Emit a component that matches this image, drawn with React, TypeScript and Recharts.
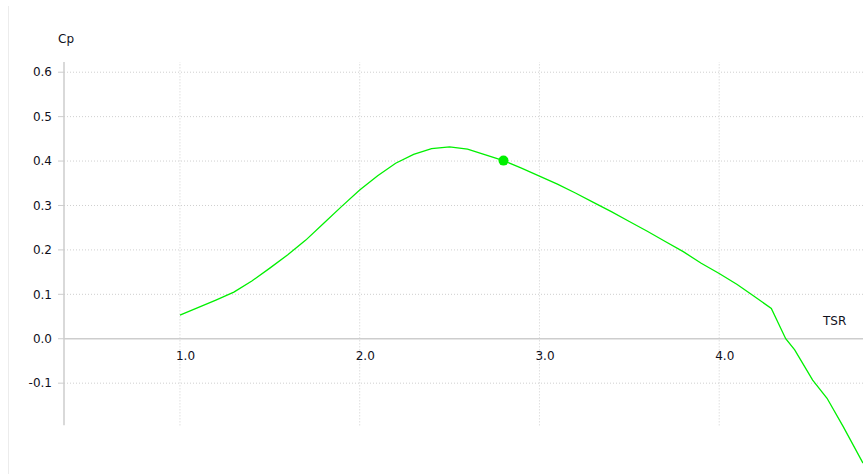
import { ComposedChart, Line, XAxis, YAxis, ReferenceLine, ReferenceDot } from 'recharts';

// Cp curve
const tsr = [1.0, 1.1, 1.2, 1.3, 1.4, 1.5, 1.6, 1.7, 1.8, 1.9, 2.0, 2.1, 2.2, 2.3, 2.4, 2.5, 2.6, 2.7, 2.8, 2.9, 3.0, 3.1, 3.2, 3.3, 3.4, 3.5, 3.6, 3.7, 3.8, 3.9, 4.0, 4.1, 4.2, 4.29, 4.37, 4.42, 4.52, 4.6, 4.69, 4.8];
const cp = [0.053, 0.07, 0.087, 0.105, 0.13, 0.159, 0.189, 0.222, 0.26, 0.298, 0.335, 0.367, 0.395, 0.415, 0.428, 0.432, 0.427, 0.414, 0.401, 0.384, 0.366, 0.348, 0.328, 0.307, 0.286, 0.264, 0.242, 0.219, 0.196, 0.17, 0.147, 0.122, 0.094, 0.068, 0.0, -0.025, -0.093, -0.134, -0.198, -0.28];

// operating point
const markerTsr = [2.8];
const markerCp = [0.401];

const xTicks = [1, 2, 3, 4];
const yTicks = [-0.1, 0, 0.1, 0.2, 0.3, 0.4, 0.5, 0.6];
const xRange = [0.355, 4.8];
const yRange = [-0.3, 0.65];
const axisSpan = [-0.195, 0.623];

const curve = tsr.map((t, i) => ({ tsr: t, cp: cp[i] }));
const marker = markerTsr.map((t, i) => ({ tsr: t, cp: markerCp[i] }));

const textColor = '#10101c';
const gridColor = '#cfcfcf';
const axisColor = '#cdcdcd';
const green = '#00f000';

const App = () => {
  return (
    <div style={{ position: 'absolute', left: 0, top: 0, width: 863, height: 474, fontFamily: '"DejaVu Sans", sans-serif', background: '#fff' }}>
      <div style={{ position: 'absolute', left: 8, top: 6, bottom: 0, width: 1, background: '#ececec' }} />
      <div style={{ position: 'absolute', left: 58, top: 32, fontSize: 12, color: textColor }}>Cp</div>
      <div style={{ position: 'absolute', left: 823, top: 314, fontSize: 12, color: textColor }}>TSR</div>
      <ComposedChart width={863} height={474} margin={{ top: 50, right: 0, bottom: 2, left: 0 }}>
        <XAxis type="number" dataKey="tsr" domain={xRange} allowDataOverflow hide ticks={xTicks} />
        <YAxis
          type="number"
          width={64}
          domain={yRange}
          allowDataOverflow
          ticks={yTicks}
          axisLine={false}
          tickSize={6}
          tickMargin={6}
          tickLine={{ stroke: axisColor }}
          tick={{ fill: textColor, fontSize: 12 }}
          tickFormatter={(v: number) => v.toFixed(1)}
        />
        {yTicks.filter((t) => t !== 0).map((t) => (
          <ReferenceLine key={`h${t}`} y={t} stroke={gridColor} strokeDasharray="1 2" />
        ))}
        {xTicks.map((t) => (
          <ReferenceLine
            key={`g${t}`}
            segment={[{ x: t, y: axisSpan[0] }, { x: t, y: axisSpan[1] }]}
            stroke={gridColor}
            strokeDasharray="1 2"
          />
        ))}
        <ReferenceLine
          segment={[{ x: xRange[0], y: axisSpan[0] }, { x: xRange[0], y: axisSpan[1] }]}
          stroke={axisColor}
          strokeWidth={1.5}
        />
        <ReferenceLine y={0} stroke={axisColor} strokeWidth={1.5} />
        {xTicks.map((t) => (
          <ReferenceDot
            key={`l${t}`}
            x={t}
            y={0}
            r={0}
            stroke="none"
            fill="none"
            label={{
              content: (props: any) => (
                <text x={props.viewBox.x - 4} y={props.viewBox.y + 21} fill={textColor} fontSize={12}>
                  {t.toFixed(1)}
                </text>
              ),
            }}
          />
        ))}
        <Line data={curve} dataKey="cp" type="linear" stroke={green} strokeWidth={1.3} dot={false} isAnimationActive={false} />
        <Line data={marker} dataKey="cp" stroke="none" dot={{ r: 5, fill: green, stroke: green, strokeWidth: 0 }} isAnimationActive={false} />
      </ComposedChart>
    </div>
  );
};

export default App;
